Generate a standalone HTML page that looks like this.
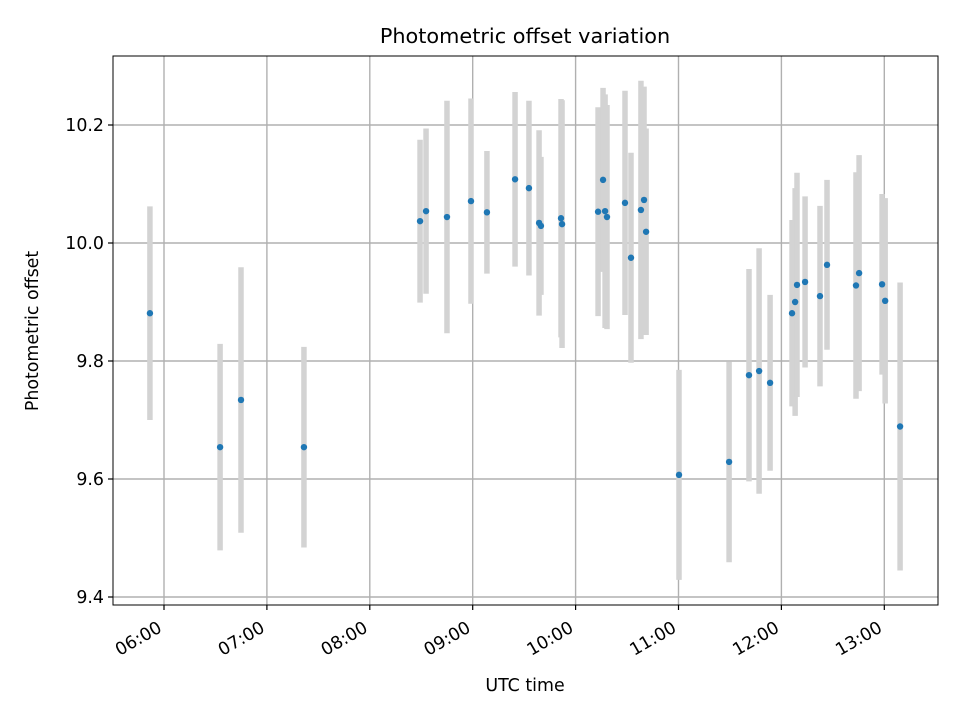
<!DOCTYPE html>
<html><head><meta charset="utf-8"><style>
body{margin:0;background:#fff;}
svg text{font-family:"DejaVu Sans","Liberation Sans",sans-serif;fill:#000;}
</style></head><body>
<svg id="chart" width="960" height="720" xmlns="http://www.w3.org/2000/svg">
<rect width="960" height="720" fill="#fff"/>
<g id="grid"></g>
<g id="bars"></g>
<g id="pts"></g>
<rect x="113" y="56" width="825" height="549" fill="none" stroke="#000" stroke-width="1"/>
<g id="ticks"></g>
<text x="525" y="43" font-size="20.8" text-anchor="middle">Photometric offset variation</text>
<text x="525" y="691" font-size="17.4" text-anchor="middle">UTC time</text>
<text transform="translate(38,331) rotate(-90)" font-size="17.4" text-anchor="middle">Photometric offset</text>
</svg>
<script>
// time in minutes after midnight UTC
const times=[351.8,392.7,404.9,441.6,509.3,512.8,525.0,539.0,548.3,564.7,572.8,578.7,579.8,591.5,592.1,613.1,616.0,617.2,618.3,628.8,632.3,638.1,639.9,641.1,660.3,689.5,701.1,707.0,713.4,726.2,728.0,729.1,733.8,742.5,746.6,763.5,765.3,778.7,780.5,789.2];
const offsets=[9.881,9.654,9.734,9.654,10.037,10.054,10.044,10.071,10.052,10.108,10.093,10.034,10.029,10.042,10.032,10.053,10.107,10.054,10.044,10.068,9.975,10.056,10.073,10.019,9.607,9.629,9.776,9.783,9.763,9.881,9.900,9.929,9.934,9.910,9.963,9.928,9.949,9.930,9.902,9.689];
const errors=[0.181,0.175,0.225,0.170,0.138,0.140,0.197,0.174,0.104,0.148,0.148,0.157,0.117,0.202,0.210,0.177,0.156,0.198,0.190,0.190,0.178,0.219,0.192,0.175,0.178,0.170,0.180,0.208,0.149,0.158,0.193,0.190,0.145,0.153,0.144,0.192,0.200,0.153,0.174,0.244];
const xTicks=[360,420,480,540,600,660,720,780];
const xTickLabels=["06:00","07:00","08:00","09:00","10:00","11:00","12:00","13:00"];
const yTicks=[9.4,9.6,9.8,10.0,10.2];
const yTickLabels=["9.4","9.6","9.8","10.0","10.2"];
const NS="http://www.w3.org/2000/svg";
const X=t=>164+(t-360)*(102.9/60);
const Y=v=>243-(v-10)*590;
function mk(tag,attrs,parent){const e=document.createElementNS(NS,tag);for(const k in attrs)e.setAttribute(k,attrs[k]);parent.appendChild(e);return e;}
const grid=document.getElementById('grid'),ticks=document.getElementById('ticks'),bars=document.getElementById('bars'),pts=document.getElementById('pts');
xTicks.forEach((t,i)=>{const x=X(t);
 const g=mk('line',{x1:x,x2:x,y1:56,y2:605,stroke:'#b0b0b0','stroke-width':1.4},grid);
 
 const tk=mk('line',{x1:x,x2:x,y1:605,y2:610,stroke:'#000','stroke-width':1.2},ticks);
 
 const tx=mk('text',{x:0,y:0,'font-size':17.4,'text-anchor':'end',transform:`translate(${x-1},${631}) rotate(-30)`},ticks);
 tx.textContent=xTickLabels[i];
 
});
yTicks.forEach((v,i)=>{const y=Y(v);
 const g=mk('line',{x1:113,x2:938,y1:y,y2:y,stroke:'#b0b0b0','stroke-width':1.4},grid);
 
 const tk=mk('line',{x1:108,x2:113,y1:y,y2:y,stroke:'#000','stroke-width':1.2},ticks);
 
 const tx=mk('text',{x:104,y:y+6,'font-size':17.4,'text-anchor':'end'},ticks);
 tx.textContent=yTickLabels[i];
 
});
times.forEach((t,i)=>{const x=X(t);
 const b=mk('line',{x1:x,x2:x,y1:Y(offsets[i]+errors[i]),y2:Y(offsets[i]-errors[i]),stroke:'#d3d3d3','stroke-width':5.5},bars);
 
});
times.forEach((t,i)=>{
 const c=mk('circle',{cx:X(t),cy:Y(offsets[i]),r:3.2,fill:'#1f77b4'},pts);
 
});
</script>
</body></html>
